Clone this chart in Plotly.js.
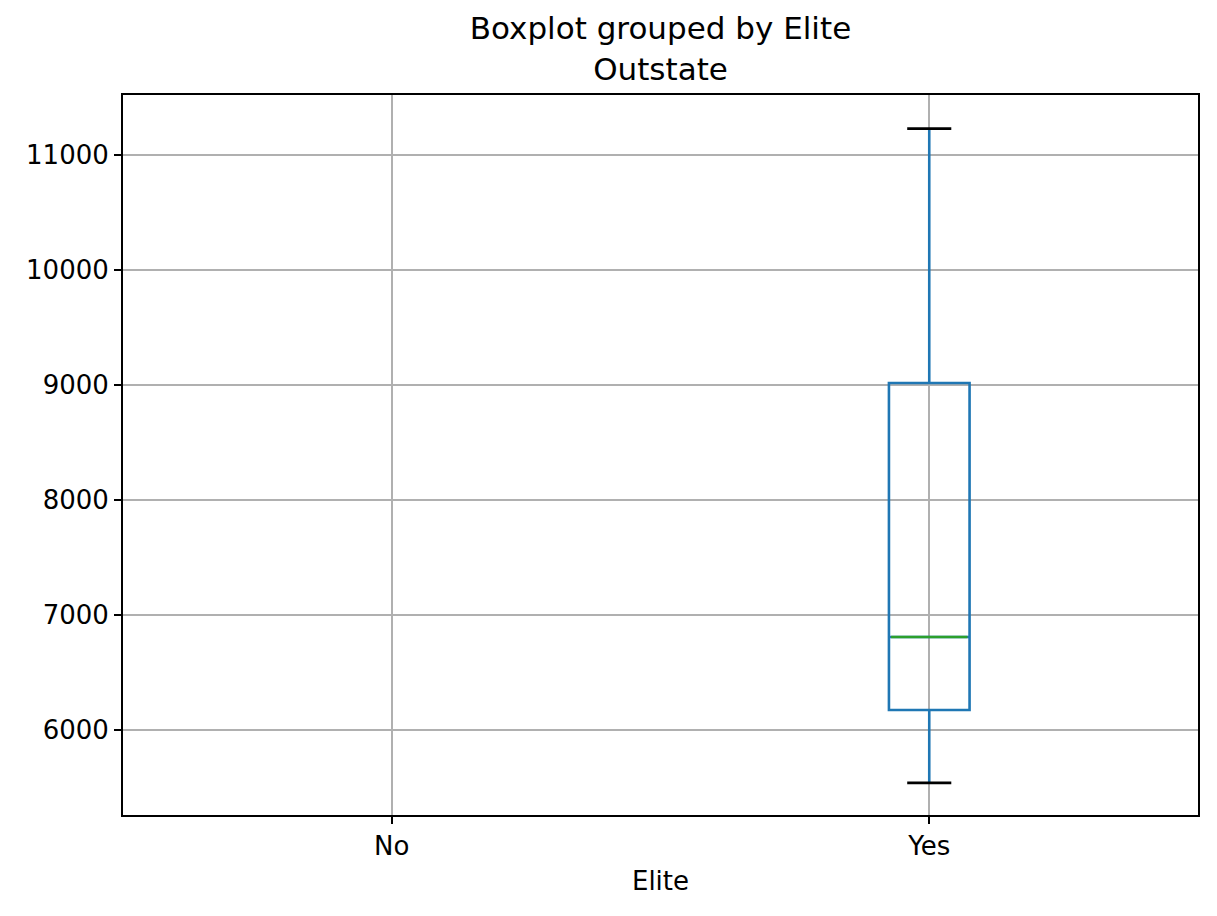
<!DOCTYPE html>
<html>
<head>
<meta charset="utf-8">
<script src="https://cdn.plot.ly/plotly-3.0.1.min.js"></script>
<style>html,body{margin:0;padding:0;background:#fff;}#chart{width:1217px;height:916px;}</style>
</head>
<body>
<div id="chart"></div>
<script>
// Data
const categories = ['No', 'Yes'];
const boxCategories = ['Yes'];          // categories that have a box
const lowerWhisker = [5540];
const q1Values = [6174];
const medianValues = [6809];
const q3Values = [9017];
const upperWhisker = [11230];
const yTicks = [6000, 7000, 8000, 9000, 10000, 11000];

const boxWidth = 0.15;
const capHalf = 0.041;
const xIdx = boxCategories.map(c => categories.indexOf(c));

const boxTrace = {
  type: 'box',
  x: xIdx,
  q1: q1Values,
  median: medianValues,
  q3: q3Values,
  lowerfence: lowerWhisker,
  upperfence: upperWhisker,
  width: boxWidth,
  whiskerwidth: 0,
  line: {color: '#1f77b4', width: 2.6},
  fillcolor: 'rgba(0,0,0,0)',
  boxpoints: false,
  hoverinfo: 'skip',
  showlegend: false
};

const medX = [], medY = [], capX = [], capY = [];
xIdx.forEach((x, i) => {
  medX.push(x - boxWidth / 2 + 0.004, x + boxWidth / 2 - 0.004, null);
  medY.push(medianValues[i], medianValues[i], null);
  capX.push(x - capHalf, x + capHalf, null, x - capHalf, x + capHalf, null);
  capY.push(lowerWhisker[i], lowerWhisker[i], null, upperWhisker[i], upperWhisker[i], null);
});

const medianTrace = {
  type: 'scatter', mode: 'lines', x: medX, y: medY,
  line: {color: '#2ca02c', width: 2.6}, hoverinfo: 'skip', showlegend: false
};
const capTrace = {
  type: 'scatter', mode: 'lines', x: capX, y: capY,
  line: {color: '#000000', width: 2.6}, hoverinfo: 'skip', showlegend: false
};

const font = {family: 'DejaVu Sans, sans-serif', color: '#000', size: 26};

const layout = {
  width: 1217, height: 916,
  paper_bgcolor: '#fff', plot_bgcolor: '#fff',
  margin: {l: 123, r: 19, t: 95, b: 101},
  font: font,
  showlegend: false,
  title: {
    text: 'Boxplot grouped by Elite<br>Outstate',
    font: {family: 'DejaVu Sans, sans-serif', size: 31, color: '#000'},
    x: 0.5, xanchor: 'center', xref: 'paper',
    y: 0.957, yanchor: 'top', yref: 'container'
  },
  xaxis: {
    range: [-0.5, 1.5],
    tickmode: 'array',
    tickvals: categories.map((c, i) => i),
    ticktext: categories,
    showgrid: true, gridcolor: '#b0b0b0', gridwidth: 2,
    zeroline: false,
    showline: true, linecolor: '#000', linewidth: 2, mirror: true,
    ticks: 'outside', ticklen: 7, tickwidth: 2, tickcolor: '#000',
    tickfont: {size: 26},
    title: {text: 'Elite', font: {size: 26}, standoff: 12}
  },
  yaxis: {
    range: [5261, 11522],
    tickmode: 'array',
    tickvals: yTicks,
    ticktext: yTicks.map(String),
    showgrid: true, gridcolor: '#b0b0b0', gridwidth: 2,
    zeroline: false,
    showline: true, linecolor: '#000', linewidth: 2, mirror: true,
    ticks: 'outside', ticklen: 7, tickwidth: 2, tickcolor: '#000',
    tickfont: {size: 26}
  }
};

Plotly.newPlot('chart', [boxTrace, medianTrace, capTrace], layout, {displayModeBar: false, staticPlot: true});
</script>
</body>
</html>
